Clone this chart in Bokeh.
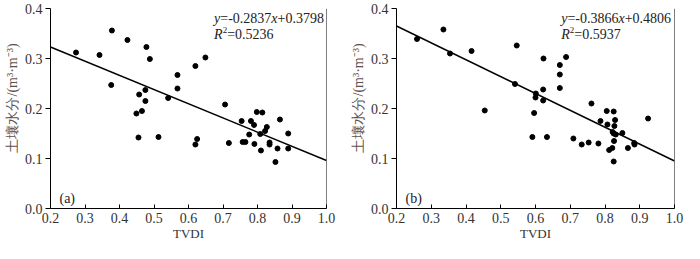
from bokeh.plotting import figure
from bokeh.layouts import row
from bokeh.models import Label, Span, FixedTicker, NumeralTickFormatter, Range1d, Title
from bokeh.embed import file_html
from bokeh.resources import INLINE

# ---- data ----
tvdi_a = [0.274, 0.342, 0.378, 0.376, 0.423, 0.478, 0.488, 0.457, 0.475, 0.475,
          0.449, 0.465, 0.455, 0.513, 0.541, 0.568, 0.568, 0.620, 0.649, 0.620,
          0.625, 0.706, 0.717, 0.754, 0.757, 0.765, 0.776, 0.781, 0.790, 0.798,
          0.814, 0.791, 0.808, 0.810, 0.822, 0.827, 0.835, 0.835, 0.852, 0.858,
          0.865, 0.889, 0.889]
sm_a = [0.312, 0.307, 0.356, 0.247, 0.337, 0.323, 0.299, 0.228, 0.237, 0.215,
        0.190, 0.195, 0.142, 0.143, 0.221, 0.267, 0.240, 0.285, 0.302, 0.128,
        0.139, 0.208, 0.131, 0.175, 0.133, 0.133, 0.148, 0.175, 0.167, 0.193,
        0.192, 0.129, 0.149, 0.116, 0.155, 0.163, 0.132, 0.128, 0.093, 0.120,
        0.178, 0.150, 0.120]

tvdi_b = [0.259, 0.335, 0.354, 0.416, 0.454, 0.541, 0.546, 0.601, 0.600, 0.596,
          0.591, 0.623, 0.622, 0.622, 0.633, 0.670, 0.670, 0.670, 0.688, 0.709,
          0.733, 0.753, 0.761, 0.781, 0.787, 0.805, 0.807, 0.812, 0.821, 0.825,
          0.829, 0.827, 0.822, 0.825, 0.831, 0.826, 0.825, 0.850, 0.866, 0.884,
          0.885, 0.924]
sm_b = [0.339, 0.358, 0.310, 0.315, 0.196, 0.249, 0.326, 0.230, 0.222, 0.191,
        0.143, 0.300, 0.238, 0.216, 0.143, 0.287, 0.268, 0.241, 0.303, 0.140,
        0.128, 0.132, 0.210, 0.130, 0.175, 0.195, 0.168, 0.117, 0.121, 0.194,
        0.177, 0.165, 0.153, 0.150, 0.148, 0.135, 0.094, 0.151, 0.121, 0.131,
        0.128, 0.180]

fit_x = [0.2, 1.0]
fit_a = [0.323, 0.096]
fit_b = [0.365, 0.095]

eq_a = ("-0.2837", "+0.3798", "0.5236")
eq_b = ("-0.3866", "+0.4806", "0.5937")

x_ticks = [0.2, 0.3, 0.4, 0.5, 0.6, 0.7, 0.8, 0.9, 1.0]
y_ticks = [0.0, 0.1, 0.2, 0.3, 0.4]

y_title = "土壤水分/(m³·m⁻³)"
x_title = "TVDI"

SERIF = "Liberation Serif"
TXT = "#222222"


def add_pieces(p, x, y, pieces):
    off = 0.0
    for text, italic, size, dy, w in pieces:
        p.add_layout(Label(x=x, y=y, text=text, x_offset=off, y_offset=dy,
                           text_font=SERIF, text_font_size=f"{size}px",
                           text_font_style="italic" if italic else "normal",
                           text_color=TXT, text_align="left",
                           text_baseline="middle"))
        off += w


def panel(xs, ys, fit_y, eq, tag, width, bl, br):
    p = figure(width=width, height=243, x_range=Range1d(0.2, 1.0),
               y_range=Range1d(0.0, 0.4), output_backend="svg",
               toolbar_location=None, min_border_left=bl, min_border_right=br,
               min_border_top=8, min_border_bottom=35)
    p.outline_line_color = None
    p.xgrid.visible = False
    p.ygrid.visible = False
    p.background_fill_color = "white"
    p.border_fill_color = "white"

    for ax in (p.xaxis[0], p.yaxis[0]):
        ax.axis_line_color = "black"
        ax.axis_line_width = 1
        ax.major_tick_line_color = "black"
        ax.minor_tick_line_color = None
        ax.major_label_text_font = SERIF
        ax.major_label_text_font_size = "14px"
        ax.major_label_text_color = "#333333"
        ax.formatter = NumeralTickFormatter(format="0.0")

    p.xaxis.ticker = FixedTicker(ticks=x_ticks)
    p.xaxis.major_tick_in = 4
    p.xaxis.major_tick_out = 0
    p.xaxis.major_label_standoff = 4
    p.xaxis.axis_label = x_title
    p.xaxis.axis_label_text_font = SERIF
    p.xaxis.axis_label_text_font_style = "normal"
    p.xaxis.axis_label_text_font_size = "13px"
    p.xaxis.axis_label_text_color = "#333333"
    p.xaxis.axis_label_standoff = 0

    p.yaxis.ticker = FixedTicker(ticks=y_ticks)
    p.yaxis.major_tick_in = 0
    p.yaxis.major_tick_out = 5
    p.yaxis.major_label_standoff = 3

    p.add_layout(Title(text=y_title, align="left", offset=56, standoff=4,
                       text_font=SERIF, text_font_size="14px",
                       text_font_style="normal", text_color="#5e504b"), "left")

    p.add_layout(Span(location=1.0, dimension="height", line_color="black",
                      line_width=1))

    p.line(fit_x, fit_y, line_color="black", line_width=1.4)
    p.scatter(xs, ys, size=5, color="black")

    # equation
    slope, icpt, r2 = eq
    add_pieces(p, 0.674, 0.381, [
        ("y", True, 14, 0, 6.2),
        ("=" + slope, False, 14, 0, 3.647 * 14),
        ("x", True, 14, 0, 6.2),
        (icpt, False, 14, 0, 0),
    ])
    add_pieces(p, 0.674, 0.349, [
        ("R", True, 14, 0, 8.6),
        ("2", False, 9, 4, 4.5),
        ("=" + r2, False, 14, 0, 0),
    ])

    p.add_layout(Label(x=0.226, y=0.021, text=tag, text_font=SERIF,
                       text_font_size="14px", text_color=TXT,
                       text_baseline="middle", text_align="left"))
    return p


pa = panel(tvdi_a, sm_a, fit_a, eq_a, "(a)", 346, 48, 20)
pb = panel(tvdi_b, sm_b, fit_b, eq_b, "(b)", 338, 50, 10)

layout = row(pa, pb)
open("out.html", "w").write(file_html(layout, INLINE))
